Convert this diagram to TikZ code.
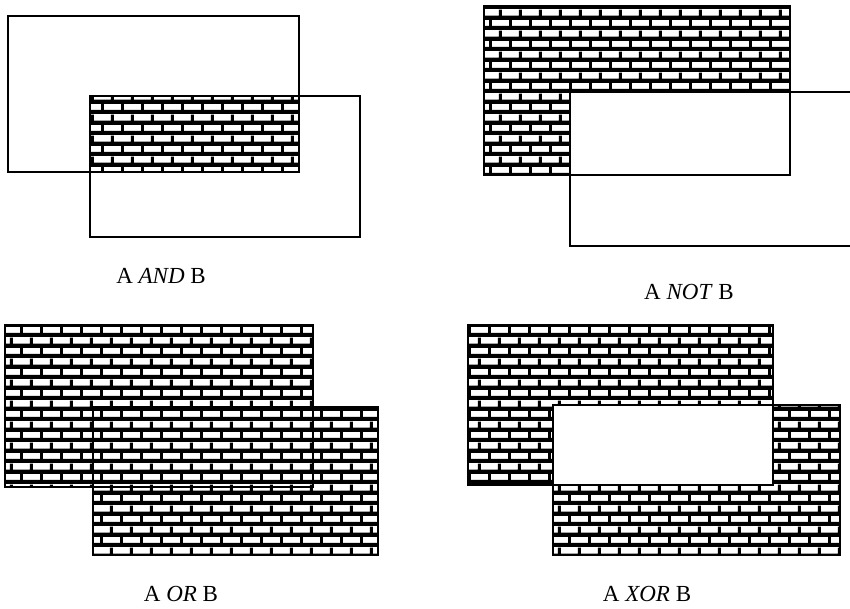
\documentclass[tikz,border=0pt]{standalone}
\usepackage{fontspec}
\setmainfont{Liberation Serif}
\usetikzlibrary{patterns}
\pgfdeclarepatternformonly{brickwall}{\pgfqpoint{0pt}{0pt}}{\pgfqpoint{20.4pt}{20.6pt}}{\pgfqpoint{20.4pt}{20.6pt}}{%
  \pgfpathrectangle{\pgfqpoint{0pt}{0pt}}{\pgfqpoint{20.4pt}{4.3pt}}%
  \pgfpathrectangle{\pgfqpoint{0pt}{10.3pt}}{\pgfqpoint{20.4pt}{4.3pt}}%
  \pgfpathrectangle{\pgfqpoint{0pt}{0pt}}{\pgfqpoint{3pt}{10.3pt}}%
  \pgfpathrectangle{\pgfqpoint{10.2pt}{10.3pt}}{\pgfqpoint{3pt}{10.3pt}}%
  \pgfusepath{fill}%
}
\begin{document}
\begin{tikzpicture}[x=1pt,y=-1pt,
  box/.style={draw, line width=1.2pt},
  wall/.style={pattern=brickwall},
  edge/.style={draw, line width=1.8pt},
  lbl/.style={font=\fontsize{23}{27}\selectfont, inner sep=0pt}]
\useasboundingbox (0,0) rectangle (850,609);
% A AND B
\path[wall, edge] (90,96) rectangle (299,172);
\draw[box] (8,16) rectangle (299,172);
\draw[box] (90,96) rectangle (360,237);
\node[lbl] (andlbl) at (161,276) {A \textit{AND} B};
% A NOT B
\path[wall, edge] (484,6) -- (790,6) -- (790,92) -- (570,92) -- (570,175) -- (484,175) -- cycle;
\draw[box] (484,6) rectangle (790,175);
\draw[box] (570,92) rectangle (862,246);
\node[lbl] (notlbl) at (689,292) {A \textit{NOT} B};
% A OR B
\path[wall] (5,325) rectangle (313,487) (93,407) rectangle (378,555);
\draw[edge] (5,325) rectangle (313,487);
\draw[edge] (93,407) rectangle (378,555);
\node[lbl] (orlbl) at (181,594) {A \textit{OR} B};
% A XOR B
\path[wall, even odd rule] (468,325) rectangle (773,485) (553,405) rectangle (840,555);
\draw[edge] (468,325) rectangle (773,485);
\draw[edge] (553,405) rectangle (840,555);
\node[lbl] (xorlbl) at (647,594) {A \textit{XOR} B};
\end{tikzpicture}
\end{document}
